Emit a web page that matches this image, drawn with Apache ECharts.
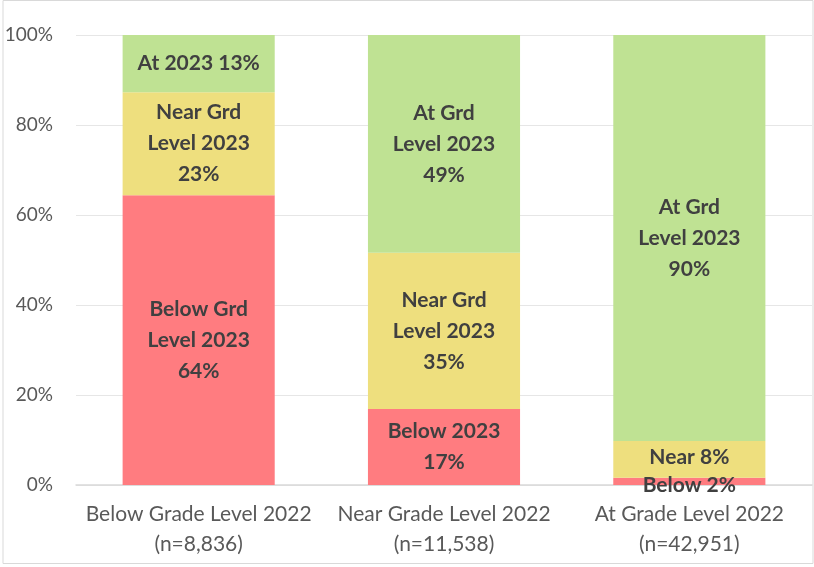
<!DOCTYPE html>
<html>
<head>
<meta charset="utf-8">
<script src="https://cdn.jsdelivr.net/npm/echarts@6/dist/echarts.min.js"></script>
<style>
  html, body { margin: 0; padding: 0; background: #fff; }
  #chart { width: 814px; height: 567px; }
</style>
</head>
<body>
<div id="chart"></div>
<script>
// categories (x axis)
var categories = ['Below Grade Level 2022\n(n=8,836)', 'Near Grade Level 2022\n(n=11,538)', 'At Grade Level 2022\n(n=42,951)'];

// share of each 2023 level, in %
var below2023 = [64.4, 16.9, 1.6];
var near2023 = [22.9, 34.7, 8.2];
var at2023 = [12.7, 48.4, 90.2];

// label texts shown inside the segments
var belowLabels = ['Below Grd\nLevel 2023\n64%', 'Below 2023\n17%', 'Below 2%'];
var nearLabels = ['Near Grd\nLevel 2023\n23%', 'Near Grd\nLevel 2023\n35%', 'Near 8%'];
var atLabels = ['At 2023 13%', 'At Grd\nLevel 2023\n49%', 'At Grd\nLevel 2023\n90%'];

var yTicks = [0, 20, 40, 60, 80, 100];

var fontFam = 'Lato, "Open Sans", sans-serif';

function segData(values, labels, offsets) {
  return values.map(function (v, i) {
    var d = { value: v, label: { formatter: labels[i] } };
    if (offsets && offsets[i]) d.label.offset = offsets[i];
    return d;
  });
}

var labelStyle = {
  show: true,
  position: 'inside',
  color: '#404040',
  fontFamily: fontFam,
  fontWeight: 'bold',
  fontSize: 21,
  lineHeight: 31
};

var chart = echarts.init(document.getElementById('chart'));
chart.setOption({
  animation: false,
  grid: { left: 76, right: 2, top: 35, bottom: 82 },
  graphic: [{
    type: 'rect',
    shape: { x: 3, y: 0.5, width: 810, height: 563 },
    style: { fill: 'none', stroke: '#D9D9D9', lineWidth: 1 },
    z: -1
  }],
  xAxis: {
    type: 'category',
    data: categories,
    axisTick: { show: false },
    axisLine: { lineStyle: { color: '#D9D9D9', width: 1.5 } },
    axisLabel: {
      interval: 0,
      color: '#595959',
      fontFamily: fontFam,
      fontSize: 21,
      lineHeight: 30,
      margin: 14
    }
  },
  yAxis: {
    type: 'value',
    min: 0,
    max: 100,
    interval: 20,
    axisLine: { show: false },
    axisTick: { show: false },
    splitLine: { lineStyle: { color: '#E6E6E6', width: 1 } },
    axisLabel: {
      color: '#595959',
      fontFamily: fontFam,
      fontSize: 19,
      margin: 23,
      formatter: function (v) { return yTicks.indexOf(v) >= 0 ? v + '%' : ''; }
    }
  },
  series: [{
    name: 'Below 2023',
    type: 'bar',
    stack: 'total',
    barWidth: '62%',
    itemStyle: { color: '#FF7C80' },
    label: labelStyle,
    data: segData(below2023, belowLabels, [null, null, [0, 4]])
  }, {
    name: 'Near 2023',
    type: 'bar',
    stack: 'total',
    itemStyle: { color: '#EEDF7E' },
    label: labelStyle,
    data: segData(near2023, nearLabels, [null, null, [0, -2]])
  }, {
    name: 'At 2023',
    type: 'bar',
    stack: 'total',
    itemStyle: { color: '#BFE293' },
    label: labelStyle,
    data: segData(at2023, atLabels)
  }]
});
</script>
</body>
</html>
